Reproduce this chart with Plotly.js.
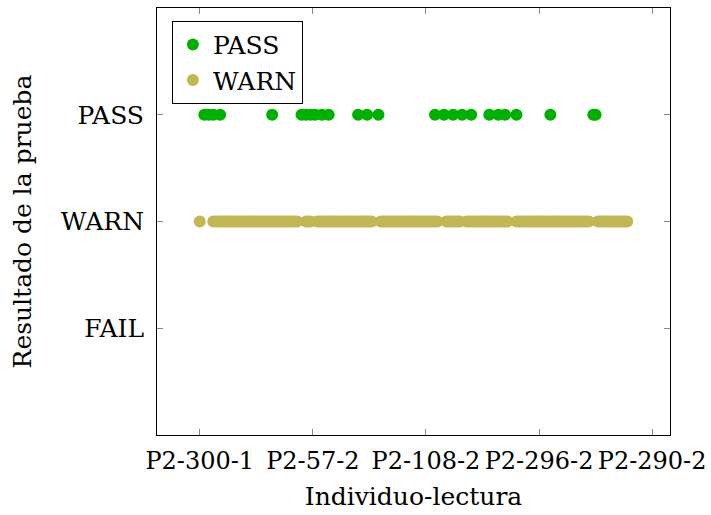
<!DOCTYPE html>
<html>
<head>
<meta charset="utf-8">
<script src="https://cdn.plot.ly/plotly-3.0.1.min.js"></script>
<style>html,body{margin:0;padding:0;background:#fff;}#chart{width:711px;height:515px;}</style>
</head>
<body>
<div id="chart"></div>
<script>
// Reading index (position along the x axis) for each PASS result
const passIdx = [2, 4, 6, 9, 32, 45, 47, 49, 51, 54, 57, 70, 74, 79, 104, 108, 112, 116, 120, 128, 132, 135, 140, 155, 174, 175];
// Reading index for each WARN result
const warnIdx = [0,
  6, 7, 8, 9, 10, 11, 12, 13, 14, 15, 16, 17, 18, 19, 20, 21, 22, 23, 24, 25, 26, 27, 28, 29, 30, 31, 32, 33, 34, 35, 36, 37, 38, 39, 40, 41, 42, 43,
  47, 48, 49,
  52, 53, 54, 55, 56, 57, 58, 59, 60, 61, 62, 63, 64, 65, 66, 67, 68, 69, 70, 71, 72, 73, 74, 75, 76,
  80, 81, 82, 83, 84, 85, 86, 87, 88, 89, 90, 91, 92, 93, 94, 95, 96, 97, 98, 99, 100, 101, 102, 103, 104, 105,
  109, 110, 111, 112, 113, 114, 115,
  118, 119, 120, 121, 122, 123, 124, 125, 126, 127, 128, 129, 130, 131, 132, 133, 134, 135, 136,
  140, 141, 142, 143, 144, 145, 146, 147, 148, 149, 150, 151, 152, 153, 154, 155, 156, 157, 158, 159, 160, 161, 162, 163, 164, 165, 166, 167, 168, 169, 170, 171, 172,
  176, 177, 178, 179, 180, 181, 182, 183, 184, 185, 186, 187, 188, 189];
const passLevel = passIdx.map(() => 'PASS');
const warnLevel = warnIdx.map(() => 'WARN');
const levels = ['FAIL', 'WARN', 'PASS'];
const xTickVals = [0, 50, 100, 150, 200];
const xTickText = ['P2-300-1', 'P2-57-2', 'P2-108-2', 'P2-296-2', 'P2-290-2'];

const levelNum = v => levels.indexOf(v);
const font = {family: 'DejaVu Serif', size: 25, color: '#000'};

const traces = [
  {x: passIdx, y: passLevel.map(levelNum), name: 'PASS', type: 'scatter', mode: 'markers',
   marker: {color: '#00b000', size: 12}},
  {x: warnIdx, y: warnLevel.map(levelNum), name: 'WARN', type: 'scatter', mode: 'markers',
   marker: {color: '#c2b655', size: 12}}
];

const layout = {
  width: 711, height: 515,
  margin: {l: 157, r: 41, t: 8, b: 80},
  paper_bgcolor: '#fff', plot_bgcolor: '#fff',
  font: font,
  showlegend: true,
  legend: {x: 0.029, y: 0.97, xanchor: 'left', yanchor: 'top', bgcolor: '#fff',
           bordercolor: '#000', borderwidth: 1, font: font, itemwidth: 30, tracegroupgap: 0},
  xaxis: {
    range: [-18.9, 207.9], tickvals: xTickVals, ticktext: xTickText, tickangle: 0,
    tickfont: {family: 'DejaVu Serif', size: 24, color: '#000'},
    ticks: 'inside', ticklen: 6, tickcolor: '#888', showline: true, linecolor: '#000', linewidth: 1,
    mirror: 'ticks', showgrid: false, zeroline: false, ticklabelstandoff: 4,
    title: {text: 'Individuo-lectura', font: font, standoff: 13}
  },
  yaxis: {
    range: [-1, 3], tickvals: [0, 1, 2], ticktext: levels,
    ticks: 'inside', ticklen: 6, tickcolor: '#888', showline: true, linecolor: '#000', linewidth: 1,
    mirror: 'ticks', showgrid: false, zeroline: false, ticklabelstandoff: 7,
    title: {text: 'Resultado de la prueba', font: font, standoff: 22}
  }
};

Plotly.newPlot('chart', traces, layout, {displayModeBar: false, staticPlot: true});
</script>
</body>
</html>
